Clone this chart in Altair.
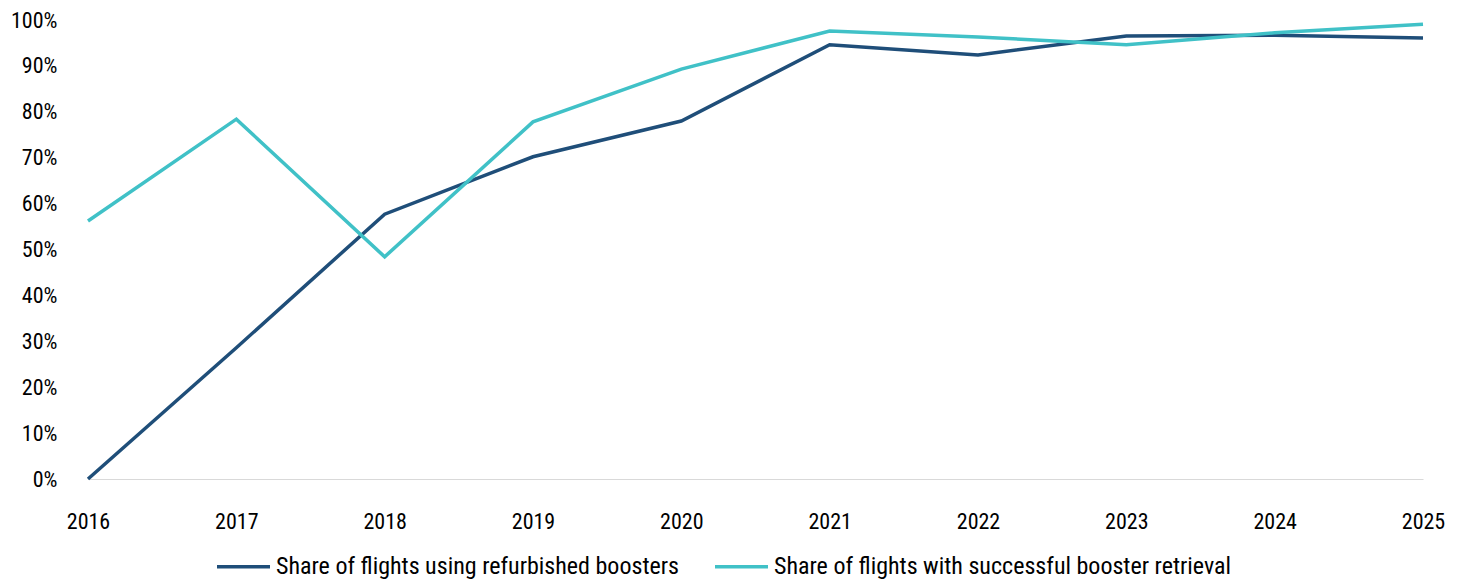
import altair as alt
import pandas as pd

years = ["2016", "2017", "2018", "2019", "2020", "2021", "2022", "2023", "2024", "2025"]
refurbished = [0.0, 0.286, 0.577, 0.702, 0.780, 0.946, 0.924, 0.965, 0.967, 0.961]
retrieval = [0.562, 0.784, 0.484, 0.778, 0.893, 0.976, 0.963, 0.946, 0.972, 0.991]
series_names = ["Share of flights using refurbished boosters",
                "Share of flights with successful booster retrieval"]
colors = ["#1F4E79", "#40C1C7"]

rows = []
for y, a, b in zip(years, refurbished, retrieval):
    rows.append({"year": y, "series": series_names[0], "value": a})
    rows.append({"year": y, "series": series_names[1], "value": b})
df = pd.DataFrame(rows)

FONT = "Roboto Condensed, Liberation Sans Narrow, Roboto"

chart = alt.Chart(df).mark_line(strokeWidth=3.5).encode(
    x=alt.X("year:O", scale=alt.Scale(type="point", padding=0),
            axis=alt.Axis(title=None, labelAngle=0, ticks=False, domainColor="#d9d9d9",
                          domainWidth=1, labelPadding=32, labelFontSize=22,
                          labelColor="#000000", labelFont=FONT, grid=False)),
    y=alt.Y("value:Q", scale=alt.Scale(domain=[0, 1], nice=False),
            axis=alt.Axis(title=None, format=".0%", values=[i / 10 for i in range(11)],
                          domain=False, ticks=False, grid=False, labelPadding=31,
                          labelFontSize=22, labelColor="#000000", labelFont=FONT)),
    color=alt.Color("series:N", scale=alt.Scale(domain=series_names, range=colors),
                    legend=alt.Legend(title=None, orient="none", direction="horizontal",
                                      legendX=127, legendY=518, symbolType="stroke",
                                      symbolSize=2809, symbolStrokeWidth=3.5,
                                      labelFontSize=24, labelFont=FONT, labelColor="#000000",
                                      columnPadding=28, labelOffset=4, labelLimit=700)),
).properties(
    width=1335, height=459,
    autosize=alt.AutoSizeParams(type="none"),
    padding={"left": 88, "top": 20, "right": 42, "bottom": 102},
).configure_view(stroke=None)

chart.save("out.html", embed_options={"renderer": "svg", "actions": False})
